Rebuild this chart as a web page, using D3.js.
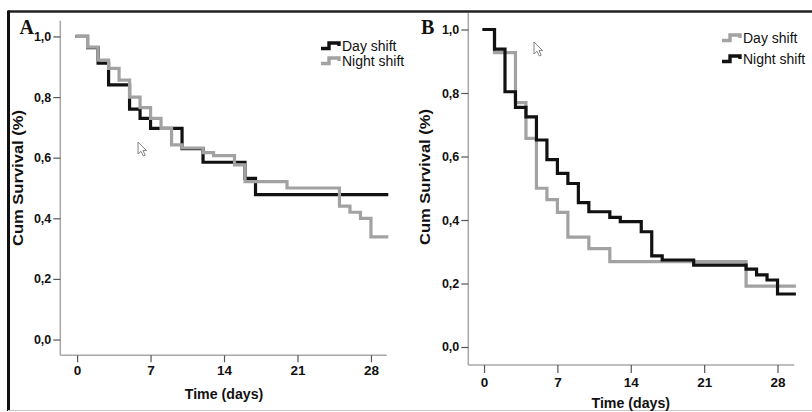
<!DOCTYPE html>
<html><head><meta charset="utf-8">
<script src="https://cdn.jsdelivr.net/npm/d3@7"></script>
<style>body{margin:0;background:#fff}svg{display:block}</style>
</head><body>
<svg id="c" width="812" height="412"></svg>
<script>
// ---- data ----
const timeTicks = [0, 7, 14, 21, 28];
const survTicks = [0, 0.2, 0.4, 0.6, 0.8, 1.0];
const seriesNames = ["Day shift", "Night shift"];
const panelLetters = ["A", "B"];
const xTitle = "Time (days)";
const yTitle = "Cum Survival (%)";

// Panel A
const aDayTime  = [0, 1, 2, 3, 5, 6, 7, 10, 12, 16, 17, 29.5];
const aDaySurv  = [1, 0.963, 0.912, 0.84, 0.76, 0.73, 0.697, 0.63, 0.585, 0.532, 0.478, 0.478];
const aNightTime = [0, 1, 2, 3, 4, 5, 6, 7, 8, 9, 10, 12, 13, 15, 16, 20, 25, 26, 27, 28, 29.5];
const aNightSurv = [1, 0.965, 0.922, 0.895, 0.856, 0.80, 0.765, 0.73, 0.697, 0.642, 0.632, 0.617, 0.607, 0.576, 0.521, 0.50, 0.44, 0.42, 0.40, 0.339, 0.339];

// Panel B
const bDayTime  = [0, 1, 3, 4, 5, 6, 7, 8, 10, 12, 25, 29.6];
const bDaySurv  = [1, 0.927, 0.77, 0.657, 0.50, 0.464, 0.424, 0.346, 0.31, 0.269, 0.192, 0.192];
const bNightTime = [0, 1, 2, 3, 4, 5, 6, 7, 8, 9, 10, 12, 13, 15, 16, 17, 20, 25, 26, 27, 28, 29.6];
const bNightSurv = [1, 0.938, 0.804, 0.755, 0.725, 0.652, 0.590, 0.547, 0.515, 0.455, 0.426, 0.408, 0.395, 0.363, 0.287, 0.274, 0.258, 0.245, 0.227, 0.211, 0.167, 0.167];

// ---- drawing ----
const svg = d3.select("#c");
svg.append("rect").attr("width", 812).attr("height", 412).attr("fill", "#fff");

const BLACK = "#111", GREY = "#a2a2a2";
const FONT = "'Liberation Sans', Arial, Helvetica, sans-serif";
const fmt = d => d3.format(".1f")(d).replace(".", ",");

// frame
svg.append("line").attr("x1", 8).attr("x2", 812).attr("y1", 11.5).attr("y2", 11.5)
  .attr("stroke", "#222").attr("stroke-width", 2.5);
svg.append("line").attr("x1", 8.5).attr("x2", 8.5).attr("y1", 10.5).attr("y2", 411)
  .attr("stroke", "#111").attr("stroke-width", 3);
svg.append("line").attr("x1", 8).attr("x2", 812).attr("y1", 410.5).attr("y2", 410.5)
  .attr("stroke", "#c8c8c8").attr("stroke-width", 1);

function cursor(g, cx, cy) {
  g.append("path")
    .attr("d", "M0,0 L0,12 L3,9.3 L5.3,14 L7.2,13.2 L5,8.6 L8.6,8.6 Z")
    .attr("transform", `translate(${cx},${cy})`)
    .attr("fill", "#fff").attr("stroke", "#777").attr("stroke-width", 0.9);
}

function panel(o) {
  const g = svg.append("g");
  const x = d3.scaleLinear().domain(o.xDom).range(o.xRange);
  const y = d3.scaleLinear().domain(o.yDom).range(o.yRange);

  // axis lines
  g.append("line").attr("x1", o.xRange[0]).attr("x2", o.xRange[0])
    .attr("y1", o.yRange[1]).attr("y2", o.yRange[0])
    .attr("stroke", "#a8a8a8").attr("stroke-width", 1.5);
  g.append("line").attr("x1", o.xRange[0]).attr("x2", o.xRange[1])
    .attr("y1", o.yRange[0]).attr("y2", o.yRange[0])
    .attr("stroke", "#a8a8a8").attr("stroke-width", 1.5);

  const ya = g.append("g").attr("transform", `translate(${o.xRange[0]},0)`)
    .call(d3.axisLeft(y).tickValues(survTicks).tickSize(7).tickPadding(2).tickFormat(fmt));
  const xa = g.append("g").attr("transform", `translate(0,${o.yRange[0]})`)
    .call(d3.axisBottom(x).tickValues(timeTicks).tickSize(o.xTickSize).tickPadding(o.xPad).tickFormat(d3.format("d")));
  [ya, xa].forEach((a, i) => {
    a.select(".domain").remove();
    a.selectAll(".tick line").attr("stroke", "#555").attr("stroke-width", 1.2);
    a.selectAll(".tick text").attr("fill", "#111").style("font-family", FONT)
      .style("font-weight", "bold").style("font-size", (i === 0 ? o.yTickFont : o.xTickFont) + "px");
  });

  // titles
  g.append("text").attr("x", x(14)).attr("y", o.xTitleY).attr("text-anchor", "middle")
    .style("font-family", FONT).style("font-weight", "bold").style("font-size", "14.2px")
    .attr("fill", "#111").text(xTitle);
  g.append("text").attr("transform", `translate(${o.yTitleX},${o.yTitleC}) rotate(-90)`)
    .attr("text-anchor", "middle")
    .attr("textLength", 136).attr("lengthAdjust", "spacingAndGlyphs")
    .style("font-family", FONT).style("font-weight", "bold").style("font-size", "14px")
    .attr("fill", "#111").text(yTitle);

  // letter
  g.append("text").attr("x", o.letterX).attr("y", 34)
    .style("font-family", "'Liberation Serif', 'Times New Roman', serif")
    .style("font-weight", "bold").style("font-size", o.letterSize + "px")
    .attr("fill", "#111").text(o.letter);

  // curves
  const line = d3.line().x(d => x(d[0])).y(d => y(d[1])).curve(d3.curveStepAfter);
  o.series.forEach(s => {
    g.append("path").datum(d3.zip(s.t, s.v)).attr("d", line)
      .attr("fill", "none").attr("stroke", s.color).attr("stroke-width", 3.2)
      .attr("stroke-linejoin", "miter").attr("stroke-linecap", "square");
  });

  // legend
  o.series.forEach((s, i) => {
    const lx = o.legX, ly = o.legY + i * o.legGap;
    g.append("path")
      .attr("d", `M${lx},${ly + 2.5} h8 v-5.5 h10 v3`)
      .attr("fill", "none").attr("stroke", s.color).attr("stroke-width", 3.4);
    g.append("text").attr("x", lx + 21).attr("y", ly + 5)
      .style("font-family", FONT).style("font-size", "14px").attr("fill", "#111")
      .text(s.name);
  });

  cursor(g, o.cursor[0], o.cursor[1]);
}

panel({
  letter: panelLetters[0], letterX: 19.5, letterSize: 20,
  xDom: [-1.6, 29.5], xRange: [60.3, 386.7],
  yDom: [-0.052, 1.052], yRange: [355.3, 20.7],
  xTickSize: 7, xPad: 3, yTickFont: 12.5, xTickFont: 13.5,
  xTitleY: 399, yTitleX: 23, yTitleC: 178,
  legX: 321, legY: 46, legGap: 15,
  cursor: [138, 142],
  series: [
    { name: seriesNames[0], t: aDayTime, v: aDaySurv, color: BLACK },
    { name: seriesNames[1], t: aNightTime, v: aNightSurv, color: GREY }
  ]
});

panel({
  letter: panelLetters[1], letterX: 421, letterSize: 20,
  xDom: [-1.5, 29.6], xRange: [468.3, 794.3],
  yDom: [-0.0567, 1.052], yRange: [365, 13],
  xTickSize: 8, xPad: 4, yTickFont: 12.5, xTickFont: 13.5,
  xTitleY: 408, yTitleX: 430, yTitleC: 177,
  legX: 722, legY: 38, legGap: 21,
  cursor: [534, 42],
  series: [
    { name: seriesNames[0], t: bDayTime, v: bDaySurv, color: GREY },
    { name: seriesNames[1], t: bNightTime, v: bNightSurv, color: BLACK }
  ]
});
</script>
</body></html>
